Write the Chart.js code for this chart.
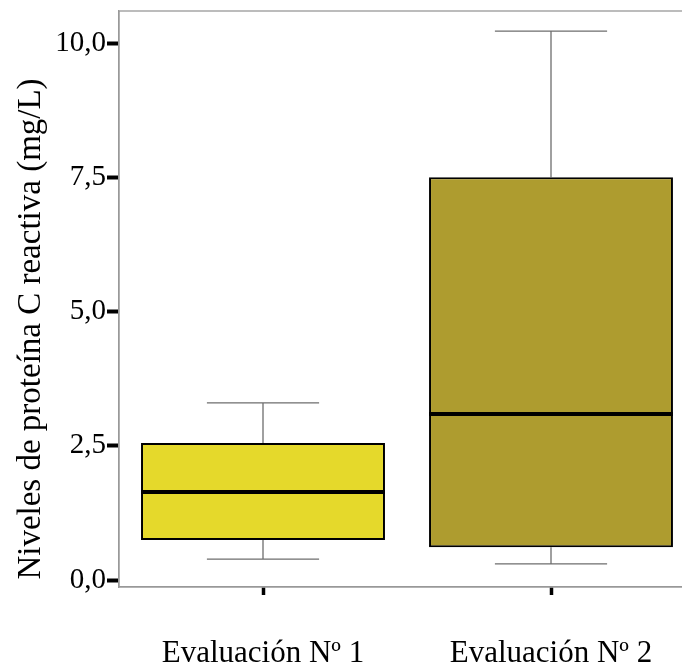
<!DOCTYPE html>
<html lang="es">
<head>
  <meta charset="UTF-8" />
  <title>Proteína C reactiva</title>
  <style>
    body {
      margin: 0;
      padding: 0;
      background-color: #fff;
      overflow: hidden;
    }

    #chartBox {
      width: 695px;
      height: 663px;
    }
  </style>
</head>
<body>
  <div id="chartBox">
    <canvas id="boxChart"></canvas>
  </div>

  <script src="https://cdn.jsdelivr.net/npm/chart.js"></script>
  <script>
    const categories = ["Evaluación Nº 1", "Evaluación Nº 2"];
    const minValues = [0.39, 0.30];
    const q1Values = [0.745, 0.61];
    const medianValues = [1.64, 3.09];
    const q3Values = [2.55, 7.50];
    const maxValues = [3.30, 10.22];
    const tickValues = [0, 2.5, 5, 7.5, 10];
    const boxColors = ["#e5d92b", "#ae9c2f"];
    const yTitle = "Niveles de proteína C reactiva (mg/L)";

    const serif = "'Liberation Serif', 'Times New Roman', serif";

    // whiskers go behind the boxes, medians on top
    const boxPlotPlugin = {
      id: "boxPlot",
      beforeDatasetsDraw(chart) {
        const ctx = chart.ctx;
        const y = chart.scales.y;
        const bars = chart.getDatasetMeta(0).data;
        ctx.save();
        ctx.strokeStyle = "#6e6e6e";
        ctx.lineWidth = 1.3;
        bars.forEach((bar, i) => {
          const half = bar.width * 0.23;
          const pairs = [[q3Values[i], maxValues[i]], [q1Values[i], minValues[i]]];
          pairs.forEach(([from, to]) => {
            ctx.beginPath();
            ctx.moveTo(bar.x, y.getPixelForValue(from));
            ctx.lineTo(bar.x, y.getPixelForValue(to));
            ctx.moveTo(bar.x - half, y.getPixelForValue(to));
            ctx.lineTo(bar.x + half, y.getPixelForValue(to));
            ctx.stroke();
          });
        });
        ctx.restore();
      },
      afterDatasetsDraw(chart) {
        const ctx = chart.ctx;
        const y = chart.scales.y;
        const bars = chart.getDatasetMeta(0).data;
        ctx.save();
        ctx.strokeStyle = "#000";
        ctx.lineWidth = 4;
        bars.forEach((bar, i) => {
          const py = y.getPixelForValue(medianValues[i]);
          ctx.beginPath();
          ctx.moveTo(bar.x - bar.width / 2, py);
          ctx.lineTo(bar.x + bar.width / 2, py);
          ctx.stroke();
        });
        ctx.restore();
      },
      afterDraw(chart) {
        const ctx = chart.ctx;
        const a = chart.chartArea;
        ctx.save();
        ctx.strokeStyle = "#999";
        ctx.lineWidth = 1.3;
        ctx.strokeRect(a.left, a.top, a.right - a.left, a.bottom - a.top);
        // axis title
        ctx.translate(31, 329);
        ctx.rotate(-Math.PI / 2);
        ctx.fillStyle = "#000";
        ctx.font = "33px " + serif;
        ctx.textAlign = "center";
        ctx.textBaseline = "middle";
        ctx.fillText(yTitle, 0, 0);
        ctx.restore();
      }
    };

    const ctx = document.getElementById("boxChart").getContext("2d");
    new Chart(ctx, {
      type: "bar",
      data: {
        labels: categories,
        datasets: [{
          data: categories.map((c, i) => [q1Values[i], q3Values[i]]),
          backgroundColor: boxColors,
          borderColor: "#000",
          borderWidth: 2,
          borderSkipped: false,
          categoryPercentage: 1,
          barPercentage: 0.847
        }]
      },
      options: {
        responsive: true,
        maintainAspectRatio: false,
        animation: false,
        layout: { padding: { top: 11, left: 0, right: 0, bottom: 0 } },
        plugins: {
          legend: { display: false },
          tooltip: { enabled: false }
        },
        scales: {
          x: {
            offset: true,
            grid: {
              offset: false,
              drawOnChartArea: false,
              drawTicks: true,
              tickLength: 8,
              tickWidth: 3.5,
              tickColor: "#000"
            },
            border: { color: "#999", width: 1.3 },
            ticks: {
              color: "#000",
              padding: 40,
              font: { family: serif, size: 31 },
              maxRotation: 0
            },
            afterFit(scale) {
              scale.height = 76;
              scale.paddingLeft = 0;
              scale.paddingRight = 0;
            }
          },
          y: {
            min: -0.13,
            max: 10.596,
            afterBuildTicks(scale) {
              scale.ticks = tickValues.map(v => ({ value: v }));
            },
            grid: {
              drawOnChartArea: false,
              drawTicks: true,
              tickLength: 12,
              tickWidth: 4,
              tickColor: "#000"
            },
            border: { color: "#999", width: 1.3 },
            ticks: {
              color: "#000",
              padding: 1,
              font: { family: serif, size: 29 },
              callback: v => v.toFixed(1).replace(".", ",")
            },
            afterFit(scale) {
              scale.width = 119;
              scale.paddingTop = 0;
              scale.paddingBottom = 0;
            }
          }
        }
      },
      plugins: [boxPlotPlugin]
    });
  </script>
</body>
</html>
